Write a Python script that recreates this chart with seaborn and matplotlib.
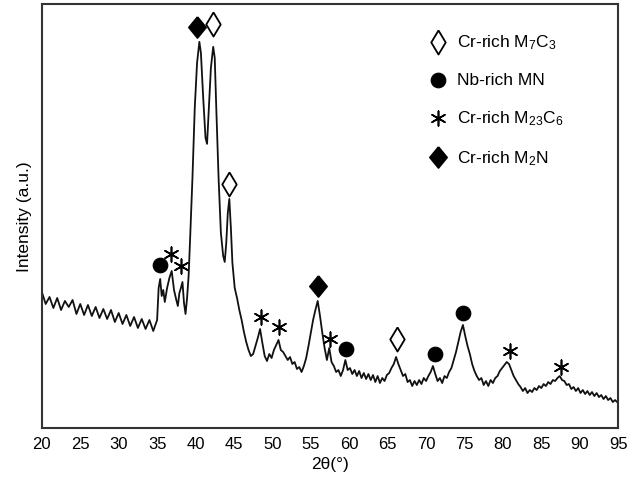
import matplotlib
matplotlib.use("Agg")
import matplotlib.pyplot as plt
import seaborn as sns

# 2theta (deg) and intensity (a.u.)
two_theta = [20.0, 20.5, 21.0, 21.5, 22.0, 22.5, 23.0, 23.5, 24.0, 24.5, 25.0, 25.5, 26.0, 26.5,
             27.0, 27.5, 28.0, 28.5, 29.0, 29.5, 30.0, 30.5, 31.0, 31.5, 32.0, 32.5, 33.0, 33.5,
             34.0, 34.5, 35.0, 35.2, 35.4, 35.6, 35.8, 36.0, 36.3, 36.6, 36.9, 37.2, 37.5, 37.7,
             37.9, 38.1, 38.3, 38.5, 38.7, 38.9, 39.1, 39.3, 39.6, 39.9, 40.2, 40.5, 40.7, 41.0,
             41.3, 41.5, 41.8, 42.0, 42.3, 42.5, 42.7, 43.0, 43.3, 43.6, 43.8, 44.0, 44.2, 44.4,
             44.6, 44.8, 45.1, 45.4, 45.7, 46.0, 46.3, 46.6, 46.9, 47.2, 47.5, 47.8, 48.1, 48.4,
             48.7, 49.0, 49.3, 49.6, 49.9, 50.2, 50.5, 50.8, 51.1, 51.4, 51.7, 52.0, 52.3, 52.6,
             52.9, 53.2, 53.5, 53.8, 54.1, 54.4, 54.7, 55.0, 55.3, 55.6, 55.9, 56.2, 56.5, 56.8,
             57.1, 57.4, 57.7, 58.0, 58.3, 58.6, 58.9, 59.2, 59.5, 59.8, 60.1, 60.4, 60.7, 61.0,
             61.3, 61.6, 61.9, 62.2, 62.5, 62.8, 63.1, 63.4, 63.7, 64.0, 64.3, 64.6, 64.9, 65.2,
             65.5, 65.8, 66.1, 66.4, 66.7, 67.0, 67.3, 67.6, 67.9, 68.2, 68.5, 68.8, 69.1, 69.4,
             69.7, 70.0, 70.3, 70.6, 70.9, 71.2, 71.5, 71.8, 72.1, 72.4, 72.7, 73.0, 73.3, 73.6,
             73.9, 74.2, 74.5, 74.8, 75.1, 75.4, 75.7, 76.0, 76.3, 76.6, 76.9, 77.2, 77.5, 77.8,
             78.1, 78.4, 78.7, 79.0, 79.3, 79.6, 79.9, 80.2, 80.5, 80.8, 81.1, 81.4, 81.7, 82.0,
             82.3, 82.6, 82.9, 83.2, 83.5, 83.8, 84.1, 84.4, 84.7, 85.0, 85.3, 85.6, 85.9, 86.2,
             86.5, 86.8, 87.1, 87.4, 87.7, 88.0, 88.3, 88.6, 88.9, 89.2, 89.5, 89.8, 90.1, 90.4,
             90.7, 91.0, 91.3, 91.6, 91.9, 92.2, 92.5, 92.8, 93.1, 93.4, 93.7, 94.0, 94.3, 94.6,
             95.0]
intensity = [136, 124, 131, 120, 130, 118, 127, 121, 128, 114, 124, 113, 123, 112,
             121, 110, 119, 109, 118, 106, 115, 104, 113, 102, 111, 100, 109, 99,
             108, 97, 108, 140, 149, 132, 138, 126, 140, 150, 157, 138, 128, 122,
             135, 140, 146, 125, 114, 130, 152, 190, 250, 320, 365, 386, 375, 330,
             290, 284, 330, 360, 381, 370, 320, 250, 195, 172, 166, 185, 215, 229,
             200, 165, 140, 130, 118, 108, 96, 86, 78, 72, 74, 82, 90, 99,
             85, 72, 67, 74, 70, 78, 83, 88, 78, 76, 72, 68, 71, 64,
             66, 59, 61, 56, 62, 70, 82, 95, 108, 118, 127, 112, 95, 80,
             68, 80, 66, 62, 56, 58, 52, 58, 68, 58, 60, 54, 58, 52,
             57, 50, 55, 49, 54, 48, 53, 46, 52, 45, 50, 47, 53, 55,
             60, 64, 71, 64, 58, 52, 54, 46, 48, 42, 47, 43, 48, 44,
             50, 47, 52, 56, 62, 54, 47, 50, 45, 52, 50, 56, 60, 68,
             76, 86, 96, 103, 92, 82, 74, 64, 57, 52, 48, 50, 43, 47,
             42, 48, 45, 50, 52, 57, 60, 63, 66, 64, 58, 52, 48, 44,
             41, 37, 40, 35, 38, 36, 40, 38, 42, 40, 44, 42, 46, 44,
             48, 47, 50, 52, 48, 47, 43, 44, 39, 41, 37, 40, 35, 38,
             34, 37, 33, 36, 32, 35, 31, 33, 29, 32, 28, 30, 26, 28,
             25]

# phase markers (position, height)
m7c3_x, m7c3_y = [42.3, 44.4, 66.2], [404, 244, 89]
mn_x, mn_y = [35.4, 59.6, 71.1, 74.8], [163, 79, 74, 115]
m23c6_x, m23c6_y = [36.8, 38.1, 48.5, 50.9, 57.5, 80.9, 87.5], [174, 162, 111, 101, 89, 77, 61]
m2n_x, m2n_y = [40.2, 56.0], [401, 142]

xticks = [20, 25, 30, 35, 40, 45, 50, 55, 60, 65, 70, 75, 80, 85, 90, 95]

sns.set_style("white")
plt.rcParams["font.family"] = ["Liberation Sans", "DejaVu Sans"]
plt.rcParams["mathtext.default"] = "regular"
plt.rcParams["text.color"] = "black"
plt.rcParams["axes.labelcolor"] = "black"

fig = plt.figure(figsize=(6.34, 4.81), dpi=100)
ax = fig.add_axes([0.066, 0.108, 0.909, 0.882])

sns.lineplot(x=two_theta, y=intensity, ax=ax, color="#111111", linewidth=1.3, sort=False)

open_diamond = [(0, 1), (0.6, 0), (0, -1), (-0.6, 0), (0, 1)]
solid_diamond = [(0, 1), (0.82, 0), (0, -1), (-0.82, 0), (0, 1)]

sns.scatterplot(x=m7c3_x, y=m7c3_y, ax=ax, marker=open_diamond, s=300, color="white",
                edgecolor="black", linewidth=1.3, label=r"Cr-rich M$_7$C$_3$", zorder=5)
sns.scatterplot(x=mn_x, y=mn_y, ax=ax, marker="o", s=110, color="black",
                edgecolor="black", label="Nb-rich MN", zorder=5)
sns.scatterplot(x=m23c6_x, y=m23c6_y, ax=ax, marker=(6, 2, 0), s=110, color="black",
                linewidth=1.2, label=r"Cr-rich M$_{23}$C$_6$", zorder=5)
sns.scatterplot(x=m2n_x, y=m2n_y, ax=ax, marker=solid_diamond, s=230, color="black",
                edgecolor="black", label=r"Cr-rich M$_2$N", zorder=5)

ax.set_xlim(20, 95)
ax.set_ylim(0, 424)
ax.set_xticks(xticks)
ax.set_xticks([x + 2.5 for x in xticks[:-1]], minor=True)
ax.set_yticks([])
ax.tick_params(axis="x", which="major", direction="in", length=8, width=1.4,
               labelsize=12, pad=6, color="#333333", labelcolor="black")
ax.tick_params(axis="x", which="minor", direction="in", length=4, width=1.4, color="#333333")
for sp in ax.spines.values():
    sp.set_linewidth(1.5)
    sp.set_color("#333333")

ax.set_xlabel("2θ(°)", fontsize=12.5, labelpad=3)
ax.set_ylabel("Intensity (a.u.)", fontsize=12.5, labelpad=7)

ax.legend(loc="upper left", bbox_to_anchor=(0.660, 0.949), frameon=False, fontsize=12.5,
          labelspacing=1.21, handlelength=1.0, handletextpad=0.6, borderaxespad=0)

fig.savefig("out.png", dpi=100)
